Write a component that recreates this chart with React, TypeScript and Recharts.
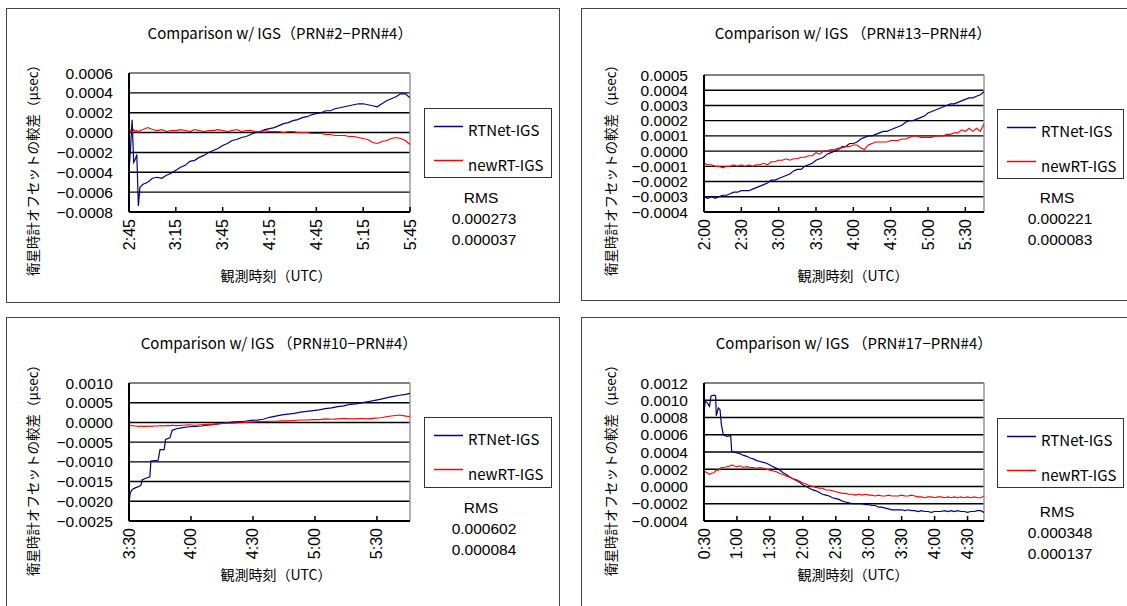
import React from "react";
import { LineChart, Line, XAxis, YAxis, CartesianGrid, ReferenceLine } from "recharts";

const FONT = '"Noto Sans CJK JP", "Noto Sans", sans-serif';
const NUM_FONT = '"Liberation Sans", Arial, sans-serif';

const seriesNames = ["RTNet-IGS", "newRT-IGS"];
const seriesColors = ["#000080", "#ff0000"];

// PRN#2-PRN#4
const p1Time = [165, 166, 167, 168, 169, 170, 171, 172, 174, 177, 180, 183, 186, 189, 192, 195, 198, 201, 204, 207, 210, 213, 216, 219, 222, 225, 228, 231, 234, 237, 240, 243, 246, 249, 252, 255, 258, 261, 264, 267, 270, 273, 276, 279, 282, 285, 288, 291, 294, 297, 300, 303, 306, 309, 312, 315, 318, 321, 324, 327, 330, 333, 336, 339, 342, 345];
const p1RTNet = [-0.0004, -0.00015, 0.00013, -0.0003, -0.00027, -0.00022, -0.00074, -0.00055, -0.00052,
  -0.0005, -0.00046, -0.00045, -0.00046, -0.00043, -0.00041, -0.00038, -0.00035, -0.00033, -0.00029,
  -0.00028, -0.00025, -0.00023, -0.0002, -0.00018, -0.00016, -0.00013, -0.00011, -0.00008, -0.00007,
  -0.00005, -0.00004, -0.00002, 0, 0.00001, 0.00003, 0.00004, 0.00005, 0.00007, 0.00009,
  0.0001, 0.00012, 0.00013, 0.00015, 0.00016, 0.00018, 0.00019, 0.0002, 0.00022, 0.00022,
  0.00024, 0.00025, 0.00026, 0.00027, 0.00028, 0.00029, 0.00029, 0.00028, 0.00027, 0.00026,
  0.00029, 0.00032, 0.00034, 0.00036, 0.00039, 0.00039, 0.00035];
const p1NewRT = [-0.00001, 0.00002, 0, 0.00003, 0.00001, 0.00002, 0, 0.00002, 0.00003,
  0.00005, 0.00003, 0.00002, 0.00003, 0.00001, 0.00002, 0.00002, 0.00003, 0.00002, 0.00001,
  0.00003, 0.00002, 0.00001, 0.00002, 0.00002, 0.00003, 0.00002, 0.00001, 0.00002, 0.00003,
  0.00001, 0.00002, 0.00002, 0.00001, 0.00001, 0.00002, 0.00001, 0.00001, 0.00001, 0,
  0.00001, 0.00001, 0, 0, 0, -0.00001, -0.00001, -0.00001, -0.00002, -0.00002,
  -0.00003, -0.00003, -0.00003, -0.00004, -0.00004, -0.00005, -0.00006, -0.00007, -0.0001, -0.00011,
  -0.00009, -0.00008, -0.00006, -0.00005, -0.00006, -0.00008, -0.00012];
const p1YTicks = [-0.0008, -0.0006, -0.0004, -0.0002, 0, 0.0002, 0.0004, 0.0006];
const p1XTicks = [165, 195, 225, 255, 285, 315, 345];
const p1Rms = ["0.000273", "0.000037"];

// PRN#13-PRN#4
const p2Time = [120, 123, 126, 129, 132, 135, 138, 141, 144, 147, 150, 153, 156, 159, 162, 165, 168, 171, 174, 177, 180, 183, 186, 189, 192, 195, 198, 201, 204, 207, 210, 213, 216, 219, 222, 225, 228, 231, 234, 237, 240, 243, 246, 249, 252, 255, 258, 261, 264, 267, 270, 273, 276, 279, 282, 285, 288, 291, 294, 297, 300, 303, 306, 309, 312, 315, 318, 321, 324, 327, 330, 333, 336, 339, 342, 345];
const p2RTNet = [-0.0003, -0.00031, -0.0003, -0.00031, -0.0003, -0.00029, -0.00029, -0.00028, -0.00027, -0.00027,
  -0.00026, -0.00026, -0.00026, -0.00025, -0.00024, -0.00023, -0.00022, -0.00021, -0.00019, -0.00019,
  -0.00018, -0.00017, -0.00016, -0.00015, -0.00013, -0.00012, -0.00012, -0.0001, -0.00009, -0.00008,
  -0.00006, -0.00005, -0.00004, -0.00002, -0.00001, 0, 0.00001, 0.00003, 0.00003, 0.00005,
  0.00005, 0.00006, 0.00008, 0.00009, 0.0001, 0.0001, 0.00011, 0.00012, 0.00013, 0.00013,
  0.00014, 0.00015, 0.00016, 0.00017, 0.00019, 0.0002, 0.0002, 0.00021, 0.00022, 0.00023,
  0.00025, 0.00026, 0.00027, 0.00028, 0.00029, 0.0003, 0.00031, 0.00031, 0.00032, 0.00033,
  0.00034, 0.00035, 0.00035, 0.00036, 0.00037, 0.00039];
const p2NewRT = [-0.00008, -0.00009, -0.00009, -0.0001, -0.0001, -0.00011, -0.0001, -0.0001, -0.00009, -0.0001,
  -0.00009, -0.0001, -0.00009, -0.0001, -0.00009, -0.00009, -0.00008, -0.00009, -0.00007, -0.00007,
  -0.00006, -0.00006, -0.00005, -0.00006, -0.00005, -0.00005, -0.00004, -0.00004, -0.00003, -0.00003,
  -0.00001, -0.00002, 0, 0, 0.00001, 0.00001, 0.00002, 0.00002, 0.00003, 0.00003,
  0.00004, 0.00004, 0.00002, 0.00001, 0.00004, 0.00005, 0.00006, 0.00006, 0.00006, 0.00006,
  0.00007, 0.00007, 0.00007, 0.00008, 0.00008, 0.00009, 0.0001, 0.0001, 0.00009, 0.00009,
  0.00009, 0.00009, 0.0001, 0.0001, 0.0001, 0.00011, 0.00011, 0.00012, 0.00012, 0.00014,
  0.00013, 0.00015, 0.00013, 0.00015, 0.00013, 0.00018];
const p2YTicks = [-0.0004, -0.0003, -0.0002, -0.0001, 0, 0.0001, 0.0002, 0.0003, 0.0004, 0.0005];
const p2XTicks = [120, 150, 180, 210, 240, 270, 300, 330];
const p2Rms = ["0.000221", "0.000083"];

// PRN#10-PRN#4
const p3Time = [210, 210.6, 211.6, 213, 215, 215.8, 216.4, 218.5, 220.1, 220.6, 222.5, 224.1, 225, 227, 227.7, 229.8, 230.9, 233, 236,
  239, 242, 245, 248, 251, 254, 257, 260, 263, 266, 269, 272, 275, 278, 281, 284, 287, 290, 293, 296,
  299, 302, 305, 308, 311, 314, 317, 320, 323, 326, 329, 332, 335, 338, 341, 344, 346];
const p3RTNet = [-0.00204, -0.00178, -0.0017, -0.00166, -0.00162, -0.00159, -0.00145, -0.00141, -0.00138, -0.00098,
  -0.00097, -0.00096, -0.00069, -0.00069, -0.00043, -0.00039, -0.0002, -0.00016, -0.00013,
  -0.00011, -0.0001, -0.00009, -0.00007, -0.00005, -0.00003, -0.00001, 0.00001, 0.00002, 0.00003,
  0.00005, 0.00006, 0.00008, 0.00013, 0.00016, 0.00019, 0.00021, 0.00023, 0.00026, 0.00028,
  0.0003, 0.00032, 0.00035, 0.00037, 0.0004, 0.00042, 0.00046, 0.00047, 0.0005, 0.00053,
  0.00056, 0.00059, 0.00063, 0.00066, 0.00069, 0.00071, 0.00074];
const p3NewRT = [-0.00005, -0.00007, -0.00008, -0.00009, -0.0001, -0.00009, -0.0001, -0.0001, -0.00009, -0.0001,
  -0.00009, -0.00009, -0.00008, -0.00009, -0.00008, -0.00008, -0.00007, -0.00008, -0.00007,
  -0.00006, -0.00007, -0.00006, -0.00005, -0.00005, -0.00003, -0.00002, -0.00002, -0.00001, 0,
  0.00001, 0.00002, 0.00002, 0.00003, 0.00003, 0.00004, 0.00004, 0.00005, 0.00006, 0.00006,
  0.00007, 0.00007, 0.00009, 0.00008, 0.00009, 0.0001, 0.00009, 0.00009, 0.0001, 0.00009,
  0.00011, 0.00012, 0.00015, 0.00017, 0.00019, 0.00016, 0.00015];
const p3YTicks = [-0.0025, -0.002, -0.0015, -0.001, -0.0005, 0, 0.0005, 0.001];
const p3XTicks = [210, 240, 270, 300, 330];
const p3Rms = ["0.000602", "0.000084"];

// PRN#17-PRN#4
const p4Time = [30, 31, 33, 35, 36.4, 39, 40.6, 41.2, 43, 44.6, 45.8, 47.6, 51, 54.3, 55.2, 57,
  60, 63, 66, 69, 72, 75, 78, 81, 84, 87, 90, 93, 96, 99, 102, 105, 108, 111, 114, 117,
  120, 123, 126, 129, 132, 135, 138, 141, 144, 147, 150, 153, 156, 159, 162, 165, 168, 171, 174, 177,
  180, 183, 186, 189, 192, 195, 198, 201, 204, 207, 210, 213, 216, 219, 222, 225, 228, 231, 234, 237,
  240, 243, 246, 249, 252, 255, 258, 261, 264, 267, 270, 273, 276, 279, 282, 285];
const p4RTNet = [0.00082, 0.00099, 0.00097, 0.00093, 0.00105, 0.00106, 0.00105, 0.00082, 0.00091, 0.00089, 0.00072, 0.0006, 0.00058, 0.00059, 0.00041, 0.0004,
  0.00039, 0.00038, 0.00036, 0.00035, 0.00033, 0.00032, 0.0003, 0.00029, 0.00028, 0.00027,
  0.00025, 0.00023, 0.00021, 0.00019, 0.00016, 0.00014, 0.00011, 0.00009, 0.00007, 0.00005,
  0.00002, 0, -0.00002, -0.00004, -0.00005, -0.00007, -0.00009, -0.0001, -0.00011, -0.00013,
  -0.00014, -0.00015, -0.00017, -0.00018, -0.00019, -0.0002, -0.0002, -0.0002, -0.0002, -0.00021,
  -0.00021, -0.00022, -0.00022, -0.00024, -0.00024, -0.00025, -0.00026, -0.00027, -0.00027, -0.00027,
  -0.00027, -0.00028, -0.00027, -0.00028, -0.00028, -0.00029, -0.00028, -0.00029, -0.00029, -0.0003,
  -0.00029, -0.00029, -0.00029, -0.00028, -0.00029, -0.00028, -0.00029, -0.00028, -0.00029, -0.00029,
  -0.0003, -0.00029, -0.00029, -0.00028, -0.00028, -0.0003];
const p4NewRT = [0.00018, 0.00017, 0.00016, 0.00014, 0.00015, 0.00016, 0.00018, 0.00019, 0.00019, 0.00021, 0.00022, 0.00022, 0.00023, 0.00024, 0.00025, 0.00024,
  0.00023, 0.00024, 0.00022, 0.00023, 0.00022, 0.00022, 0.00021, 0.00022, 0.00021, 0.0002,
  0.00019, 0.00018, 0.00017, 0.00015, 0.00014, 0.00012, 0.00011, 0.00009, 0.00008, 0.00006,
  0.00004, 0.00003, 0.00001, 0, -0.00001, -0.00002, -0.00002, -0.00004, -0.00004, -0.00005,
  -0.00006, -0.00007, -0.00008, -0.00008, -0.00009, -0.00009, -0.0001, -0.00009, -0.0001, -0.00009,
  -0.0001, -0.0001, -0.00011, -0.0001, -0.00011, -0.00011, -0.0001, -0.00011, -0.00011, -0.00011,
  -0.0001, -0.00011, -0.00011, -0.0001, -0.00011, -0.00012, -0.00012, -0.00013, -0.00012, -0.00012,
  -0.00013, -0.00012, -0.00012, -0.00013, -0.00012, -0.00013, -0.00012, -0.00013, -0.00012, -0.00013,
  -0.00012, -0.00013, -0.00012, -0.00013, -0.00013, -0.00011];
const p4YTicks = [-0.0004, -0.0002, 0, 0.0002, 0.0004, 0.0006, 0.0008, 0.001, 0.0012];
const p4XTicks = [30, 60, 90, 120, 150, 180, 210, 240, 270];
const p4Rms = ["0.000348", "0.000137"];

const Y_LABEL = "衛星時計オフセットの較差（μsec）";
const X_LABEL = "観測時刻（UTC）";
const YAXIS_W = 60;
const XAXIS_H = 50;
const TICK_GAP = 7;

type Rect = { x: number; y: number; w: number; h: number };

const fmtTime = (m: number) => {
  const h = Math.floor(m / 60);
  const mm = Math.round(m - h * 60);
  return `${h}:${mm < 10 ? "0" : ""}${mm}`;
};

const fmtVal = (v: number) => (v < -1e-12 ? "−" : "") + Math.abs(v).toFixed(4);

const TimeTick = (props: any) => {
  const { x, y, payload } = props;
  const axisY = y - TICK_GAP;
  return (
    <g>
      <line x1={x} x2={x} y1={axisY} y2={axisY - 5} stroke="#000" strokeWidth={1.5} />
      <text
        x={x}
        y={y}
        transform={`rotate(-90 ${x} ${y})`}
        textAnchor="end"
        dominantBaseline="central"
        fontSize={16}
        fontFamily={NUM_FONT}
        fill="#000"
      >
        {fmtTime(payload.value)}
      </text>
    </g>
  );
};

interface PanelProps {
  title: string;
  time: number[];
  rtnet: number[];
  newrt: number[];
  yTicks: number[];
  xTicks: number[];
  xDomain: [number, number];
  rms: string[];
  box: Rect;
  plot: Rect;
  legend: Rect;
  rmsAt: [number, number];
  titleAt: [number, number];
  yLabelAt: [number, number];
  xLabelAt: [number, number];
}

const centered = (x: number, y: number, extra: React.CSSProperties = {}): React.CSSProperties => ({
  position: "absolute",
  left: x,
  top: y,
  transform: "translate(-50%, -50%)",
  whiteSpace: "nowrap",
  lineHeight: 1.1,
  ...extra,
});

const Panel: React.FC<PanelProps> = (p) => {
  const data = p.time.map((t, i) => ({ t, rtnet: p.rtnet[i], newrt: p.newrt[i] }));
  const yMin = p.yTicks[0];
  const yMax = p.yTicks[p.yTicks.length - 1];
  const margin = {
    top: p.plot.y - p.box.y,
    left: p.plot.x - p.box.x - YAXIS_W,
    right: p.box.x + p.box.w - (p.plot.x + p.plot.w),
    bottom: p.box.y + p.box.h - (p.plot.y + p.plot.h) - XAXIS_H,
  };

  return (
    <>
      <div
        style={{
          position: "absolute",
          left: p.box.x,
          top: p.box.y,
          width: p.box.w,
          height: p.box.h,
          border: "1.5px solid #444",
          boxSizing: "border-box",
        }}
      />
      <div style={{ position: "absolute", left: p.box.x, top: p.box.y }}>
        <LineChart width={p.box.w} height={p.box.h} data={data} margin={margin}>
          <CartesianGrid horizontal vertical={false} stroke="#000" strokeWidth={1.4} />
          <XAxis
            dataKey="t"
            type="number"
            domain={p.xDomain}
            ticks={p.xTicks}
            interval={0}
            height={XAXIS_H}
            tickSize={0}
            tickMargin={TICK_GAP}
            tick={<TimeTick />}
            axisLine={{ stroke: "#000", strokeWidth: 2 }}
            allowDataOverflow
          />
          <YAxis
            type="number"
            domain={[yMin, yMax]}
            ticks={p.yTicks}
            interval={0}
            width={YAXIS_W}
            tickSize={0}
            tickMargin={16}
            tickFormatter={fmtVal}
            tick={{ fontSize: 15.5, fontFamily: NUM_FONT, fill: "#000" }}
            axisLine={{ stroke: "#000", strokeWidth: 2 }}
            allowDataOverflow
          />
          <ReferenceLine y={yMax} stroke="#999" strokeWidth={1.5} />
          <ReferenceLine x={p.xDomain[1]} stroke="#999" strokeWidth={1.5} />
          <Line
            dataKey="rtnet"
            name={seriesNames[0]}
            stroke={seriesColors[0]}
            strokeWidth={1.2}
            dot={false}
            type="linear"
            isAnimationActive={false}
          />
          <Line
            dataKey="newrt"
            name={seriesNames[1]}
            stroke={seriesColors[1]}
            strokeWidth={1.1}
            dot={false}
            type="linear"
            isAnimationActive={false}
          />
        </LineChart>
      </div>

      <div style={centered(p.titleAt[0], p.titleAt[1], { fontSize: 15 })}>{p.title}</div>
      <div style={centered(p.yLabelAt[0], p.yLabelAt[1], { fontSize: 13.5, transform: "translate(-50%, -50%) rotate(-90deg)" })}>
        {Y_LABEL}
      </div>
      <div style={centered(p.xLabelAt[0], p.xLabelAt[1], { fontSize: 14 })}>{X_LABEL}</div>

      <div
        style={{
          position: "absolute",
          left: p.legend.x,
          top: p.legend.y,
          width: p.legend.w,
          height: p.legend.h,
          border: "1.5px solid #333",
          boxSizing: "border-box",
        }}
      >
        <svg width={40} height={p.legend.h - 3} style={{ position: "absolute", left: 0, top: 0 }}>
          {seriesColors.map((c, i) => (
            <line key={c} x1={9} x2={38} y1={17.5 + i * 34} y2={17.5 + i * 34} stroke={c} strokeWidth={1.5} />
          ))}
        </svg>
        {seriesNames.map((name, i) => (
          <div
            key={name}
            style={{ position: "absolute", left: 43, top: 21 + i * 35, transform: "translateY(-50%)", fontSize: 15, whiteSpace: "nowrap", lineHeight: 1.1 }}
          >
            {name}
          </div>
        ))}
      </div>

      <div style={centered(p.rmsAt[0], p.rmsAt[1], { fontSize: 15.5, fontFamily: NUM_FONT })}>RMS</div>
      {p.rms.map((r, i) => (
        <div key={r} style={centered(p.rmsAt[0] + 3, p.rmsAt[1] + 21 * (i + 1), { fontSize: 15.5, fontFamily: NUM_FONT })}>
          {r}
        </div>
      ))}
    </>
  );
};

export default function App() {
  return (
    <div
      style={{
        position: "relative",
        width: 1127,
        height: 606,
        overflow: "hidden",
        background: "#fff",
        fontFamily: FONT,
        color: "#000",
      }}
    >
      <style>{"body{margin:0}"}</style>
      <Panel
        title="Comparison w/ IGS（PRN#2−PRN#4）"
        time={p1Time}
        rtnet={p1RTNet}
        newrt={p1NewRT}
        yTicks={p1YTicks}
        xTicks={p1XTicks}
        xDomain={[165, 345]}
        rms={p1Rms}
        box={{ x: 6, y: 8, w: 554, h: 295 }}
        plot={{ x: 129, y: 73, w: 281, h: 139 }}
        legend={{ x: 424, y: 108, w: 128, h: 70 }}
        rmsAt={[481, 198]}
        titleAt={[280, 33]}
        yLabelAt={[32, 167]}
        xLabelAt={[276, 276]}
      />
      <Panel
        title="Comparison w/ IGS （PRN#13−PRN#4）"
        time={p2Time}
        rtnet={p2RTNet}
        newrt={p2NewRT}
        yTicks={p2YTicks}
        xTicks={p2XTicks}
        xDomain={[120, 345]}
        rms={p2Rms}
        box={{ x: 581, y: 8, w: 560, h: 293 }}
        plot={{ x: 704, y: 75, w: 280, h: 137 }}
        legend={{ x: 997, y: 109, w: 127, h: 70 }}
        rmsAt={[1057, 198]}
        titleAt={[853, 33]}
        yLabelAt={[610, 167]}
        xLabelAt={[853, 276]}
      />
      <Panel
        title="Comparison w/ IGS （PRN#10−PRN#4）"
        time={p3Time}
        rtnet={p3RTNet}
        newrt={p3NewRT}
        yTicks={p3YTicks}
        xTicks={p3XTicks}
        xDomain={[210, 346]}
        rms={p3Rms}
        box={{ x: 6, y: 317, w: 554, h: 300 }}
        plot={{ x: 129, y: 383, w: 281, h: 138 }}
        legend={{ x: 424, y: 417, w: 128, h: 71 }}
        rmsAt={[481, 508]}
        titleAt={[279, 343]}
        yLabelAt={[32, 467]}
        xLabelAt={[276, 575]}
      />
      <Panel
        title="Comparison w/ IGS （PRN#17−PRN#4）"
        time={p4Time}
        rtnet={p4RTNet}
        newrt={p4NewRT}
        yTicks={p4YTicks}
        xTicks={p4XTicks}
        xDomain={[30, 285]}
        rms={p4Rms}
        box={{ x: 581, y: 317, w: 560, h: 300 }}
        plot={{ x: 704, y: 383, w: 280, h: 138 }}
        legend={{ x: 997, y: 418, w: 127, h: 70 }}
        rmsAt={[1057, 512]}
        titleAt={[854, 343]}
        yLabelAt={[610, 467]}
        xLabelAt={[853, 575]}
      />
    </div>
  );
}
